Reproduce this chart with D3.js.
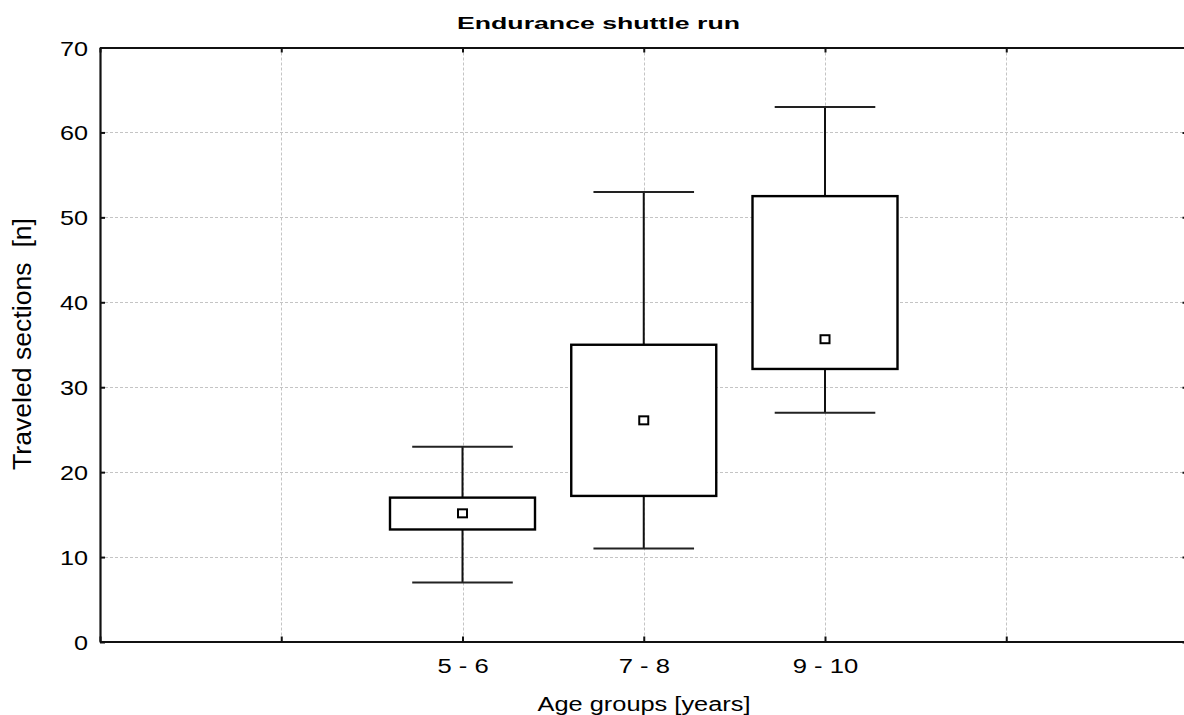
<!DOCTYPE html>
<html>
<head>
<meta charset="utf-8">
<script src="https://cdn.jsdelivr.net/npm/d3@7"></script>
<style>
  html, body { margin: 0; padding: 0; background: #fff; }
  svg { display: block; }
  text { font-family: "Liberation Sans", Arial, sans-serif; fill: #000; }
</style>
</head>
<body>
<svg id="chart" width="1184" height="715"></svg>
<script>
// ---- data ----
const categories = ["5 - 6", "7 - 8", "9 - 10"];
const catPositions = [2, 3, 4];
const whiskerLow = [7, 11, 27];
const q1 = [13.25, 17.2, 32.15];
const median = [15.15, 26.1, 35.65];
const q3 = [17, 35, 52.5];
const whiskerHigh = [23, 53, 63];
const yTicks = [0, 10, 20, 30, 40, 50, 60, 70];
const xTickPositions = [0, 1, 2, 3, 4, 5, 6];
const chartTitle = "Endurance shuttle run";
const xTitle = "Age groups [years]";
const yTitle = "Traveled sections  [n]";

// ---- layout ----
const svg = d3.select("#chart");
const mLeft = 100, mRight = 1187.5, mTop = 47.5, mBottom = 642;

const x = d3.scaleLinear().domain([0, 6]).range([mLeft, mRight]);
const y = d3.scaleLinear().domain([0, 70]).range([mBottom, mTop]);
const step = x(1) - x(0);

// gridlines
const grid = svg.append("g").attr("stroke", "#c4c4c4").attr("stroke-width", 1)
  .attr("stroke-dasharray", "3,2").attr("fill", "none");
grid.selectAll("line.h").data(yTicks.filter(d => d > 0 && d < 70)).join("line")
  .attr("x1", mLeft).attr("x2", mRight)
  .attr("y1", d => Math.round(y(d)) + 0.5).attr("y2", d => Math.round(y(d)) + 0.5);
grid.selectAll("line.v").data(xTickPositions.filter(d => d > 0 && d < 6)).join("line")
  .attr("y1", mTop).attr("y2", mBottom)
  .attr("x1", d => Math.round(x(d)) + 0.5).attr("x2", d => Math.round(x(d)) + 0.5);

// axes
function styleAxis(g) {
  g.selectAll("path.domain").attr("stroke", "#111").attr("stroke-width", 2.2);
  g.selectAll(".tick line").attr("stroke", "#111").attr("stroke-width", 2);
}
const yAxis = svg.append("g").attr("transform", `translate(${mLeft},0)`)
  .call(d3.axisLeft(y).tickValues(yTicks).tickSize(-5).tickSizeOuter(0).tickPadding(12).tickFormat(d3.format("d")));
styleAxis(yAxis);
yAxis.selectAll(".tick text").attr("font-size", 21).attr("font-family", "Liberation Sans, Arial, sans-serif")
  .attr("fill", "#000").attr("dy", "0.36em")
  .each(function() { const l = this.getComputedTextLength(); d3.select(this).attr("textLength", l * 1.2).attr("lengthAdjust", "spacingAndGlyphs"); });

const yAxisR = svg.append("g").attr("transform", `translate(${mRight},0)`)
  .call(d3.axisRight(y).tickValues(yTicks).tickSize(-5).tickSizeOuter(0).tickFormat(""));
styleAxis(yAxisR);

const xAxis = svg.append("g").attr("transform", `translate(0,${mBottom - 0.5})`)
  .call(d3.axisBottom(x).tickValues(xTickPositions).tickSize(-5).tickSizeOuter(0).tickPadding(24)
    .tickFormat(d => { const i = catPositions.indexOf(d); return i >= 0 ? categories[i] : ""; }));
styleAxis(xAxis);
xAxis.selectAll(".tick text").attr("font-size", 20).attr("font-family", "Liberation Sans, Arial, sans-serif")
  .attr("fill", "#000").attr("y", 31.5).attr("dy", 0)
  .each(function() { const l = this.getComputedTextLength(); if (l > 0) d3.select(this).attr("textLength", l * 1.28).attr("lengthAdjust", "spacingAndGlyphs"); });

const xAxisT = svg.append("g").attr("transform", `translate(0,${mTop})`)
  .call(d3.axisTop(x).tickValues(xTickPositions).tickSize(-5).tickSizeOuter(0).tickFormat(""));
styleAxis(xAxisT);

// boxes
const data = categories.map((c, i) => ({
  c, pos: catPositions[i], lo: whiskerLow[i], q1: q1[i], med: median[i], q3: q3[i], hi: whiskerHigh[i]
}));
const boxW = step * 0.8, capW = step * 0.555;
const boxes = svg.append("g");
const bg = boxes.selectAll("g.box").data(data).join("g").attr("class", "box");
bg.append("line")
  .attr("x1", d => x(d.pos)).attr("x2", d => x(d.pos))
  .attr("y1", d => y(d.lo)).attr("y2", d => y(d.hi))
  .attr("stroke", "#111").attr("stroke-width", 2);
bg.append("line")
  .attr("x1", d => x(d.pos) - capW / 2).attr("x2", d => x(d.pos) + capW / 2)
  .attr("y1", d => y(d.hi)).attr("y2", d => y(d.hi))
  .attr("stroke", "#222").attr("stroke-width", 2);
bg.append("line")
  .attr("x1", d => x(d.pos) - capW / 2).attr("x2", d => x(d.pos) + capW / 2)
  .attr("y1", d => y(d.lo)).attr("y2", d => y(d.lo))
  .attr("stroke", "#222").attr("stroke-width", 2);
bg.append("rect")
  .attr("x", d => x(d.pos) - boxW / 2).attr("width", boxW)
  .attr("y", d => y(d.q3)).attr("height", d => y(d.q1) - y(d.q3))
  .attr("fill", "#fff").attr("stroke", "#000").attr("stroke-width", 2.4);
bg.append("rect")
  .attr("x", d => x(d.pos) - 4.5).attr("width", 9)
  .attr("y", d => y(d.med) - 4).attr("height", 8)
  .attr("fill", "#fff").attr("stroke", "#000").attr("stroke-width", 2);

// titles
svg.append("text").attr("x", 598.5).attr("y", 28.5).attr("text-anchor", "middle")
  .attr("font-size", 17).attr("font-weight", "bold")
  .attr("textLength", 283).attr("lengthAdjust", "spacingAndGlyphs").text(chartTitle);
svg.append("text").attr("x", 644).attr("y", 711).attr("text-anchor", "middle")
  .attr("font-size", 20)
  .attr("textLength", 213).attr("lengthAdjust", "spacingAndGlyphs").text(xTitle);
svg.append("text").attr("transform", "translate(31,344) rotate(-90)").attr("text-anchor", "middle")
  .attr("font-size", 26).style("white-space", "pre")
  .attr("textLength", 252).attr("lengthAdjust", "spacingAndGlyphs").text(yTitle);
</script>
</body>
</html>
